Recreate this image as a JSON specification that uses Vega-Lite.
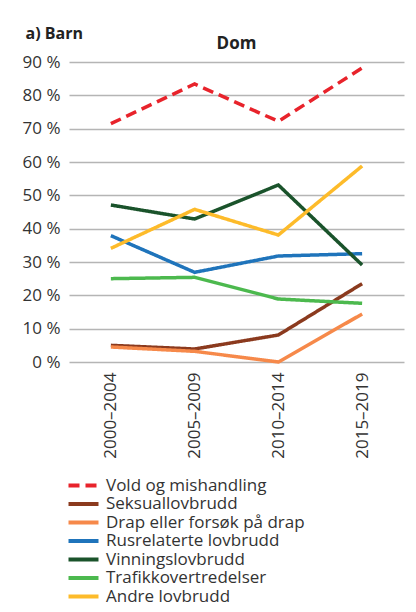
{
  "$schema": "https://vega.github.io/schema/vega-lite/v6.json",
  "width": 335,
  "height": 300,
  "autosize": {"type": "none"},
  "padding": {"left": 69, "top": 62, "right": 12, "bottom": 250},
  "background": "white",
  "title": {"text": "Dom", "fontSize": 17, "fontWeight": "bold", "color": "#222", "anchor": "middle", "offset": 10, "dy": 38, "font": "Open Sans"},
  "config": {
    "view": {"stroke": null},
    "font": "Open Sans",
    "axis": {"labelFont": "Open Sans", "labelColor": "#333", "labelFontSize": 17},
    "legend": {"labelFont": "Open Sans", "labelColor": "#333", "labelFontSize": 17}
  },
  "data": {
    "values": [
      {"period": "2000–2004", "category": "Vold og mishandling", "value": 71.5},
      {"period": "2005–2009", "category": "Vold og mishandling", "value": 83.4},
      {"period": "2010–2014", "category": "Vold og mishandling", "value": 72.2},
      {"period": "2015–2019", "category": "Vold og mishandling", "value": 88.2},
      {"period": "2000–2004", "category": "Seksuallovbrudd", "value": 5.0},
      {"period": "2005–2009", "category": "Seksuallovbrudd", "value": 3.9},
      {"period": "2010–2014", "category": "Seksuallovbrudd", "value": 8.1},
      {"period": "2015–2019", "category": "Seksuallovbrudd", "value": 23.5},
      {"period": "2000–2004", "category": "Drap eller forsøk på drap", "value": 4.5},
      {"period": "2005–2009", "category": "Drap eller forsøk på drap", "value": 3.2},
      {"period": "2010–2014", "category": "Drap eller forsøk på drap", "value": 0.0},
      {"period": "2015–2019", "category": "Drap eller forsøk på drap", "value": 14.4},
      {"period": "2000–2004", "category": "Rusrelaterte lovbrudd", "value": 37.9},
      {"period": "2005–2009", "category": "Rusrelaterte lovbrudd", "value": 26.9},
      {"period": "2010–2014", "category": "Rusrelaterte lovbrudd", "value": 31.8},
      {"period": "2015–2019", "category": "Rusrelaterte lovbrudd", "value": 32.5},
      {"period": "2000–2004", "category": "Vinningslovbrudd", "value": 47.1},
      {"period": "2005–2009", "category": "Vinningslovbrudd", "value": 42.9},
      {"period": "2010–2014", "category": "Vinningslovbrudd", "value": 53.1},
      {"period": "2015–2019", "category": "Vinningslovbrudd", "value": 29.1},
      {"period": "2000–2004", "category": "Trafikkovertredelser", "value": 25.0},
      {"period": "2005–2009", "category": "Trafikkovertredelser", "value": 25.4},
      {"period": "2010–2014", "category": "Trafikkovertredelser", "value": 18.9},
      {"period": "2015–2019", "category": "Trafikkovertredelser", "value": 17.6},
      {"period": "2000–2004", "category": "Andre lovbrudd", "value": 34.1},
      {"period": "2005–2009", "category": "Andre lovbrudd", "value": 45.8},
      {"period": "2010–2014", "category": "Andre lovbrudd", "value": 38.1},
      {"period": "2015–2019", "category": "Andre lovbrudd", "value": 58.8}
    ]
  },
  "mark": {"type": "line", "strokeWidth": 3.5, "strokeCap": "butt"},
  "encoding": {
    "x": {
      "field": "period", "type": "ordinal",
      "scale": {"type": "point", "padding": 0.5},
      "axis": {"title": null, "labelAngle": -90, "labelPadding": 10, "domain": false, "ticks": false, "grid": false}
    },
    "y": {
      "field": "value", "type": "quantitative",
      "scale": {"domain": [0, 90], "nice": false},
      "axis": {
        "title": "a) Barn", "titleAngle": 0, "titleX": -44, "titleY": -24, "titleAlign": "left", "titleBaseline": "alphabetic",
        "titleFontSize": 16, "titleFontWeight": "bold", "titleColor": "#222", "titleFont": "Open Sans",
        "values": [0, 10, 20, 30, 40, 50, 60, 70, 80, 90],
        "labelExpr": "datum.value + ' %'",
        "labelPadding": 9, "domain": false, "ticks": false,
        "grid": true, "gridColor": "#b5b5b5", "gridWidth": 1.5
      }
    },
    "color": {
      "field": "category", "type": "nominal",
      "scale": {
        "domain": ["Vold og mishandling", "Seksuallovbrudd", "Drap eller forsøk på drap", "Rusrelaterte lovbrudd", "Vinningslovbrudd", "Trafikkovertredelser", "Andre lovbrudd"],
        "range": ["#e8232b", "#8b3a1e", "#f6894a", "#1f74bb", "#1a532b", "#4cb94e", "#fdbb2a"]
      },
      "legend": {
        "title": null, "orient": "none", "legendX": 6, "legendY": 415, "direction": "vertical",
        "symbolType": "M-3,0H3", "symbolSize": 100, "symbolStrokeWidth": 4, "labelOffset": 14, "rowPadding": 0.5, "padding": 0, "labelLimit": 320
      }
    },
    "strokeDash": {
      "field": "category", "type": "nominal",
      "scale": {
        "domain": ["Vold og mishandling", "Seksuallovbrudd", "Drap eller forsøk på drap", "Rusrelaterte lovbrudd", "Vinningslovbrudd", "Trafikkovertredelser", "Andre lovbrudd"],
        "range": [[11, 6], [1, 0], [1, 0], [1, 0], [1, 0], [1, 0], [1, 0]]
      },
      "legend": {
        "title": null, "orient": "none", "legendX": 6, "legendY": 415, "direction": "vertical",
        "symbolType": "M-3,0H3", "symbolSize": 100, "symbolStrokeWidth": 4, "labelOffset": 14, "rowPadding": 0.5, "padding": 0, "labelLimit": 320
      }
    }
  }
}
